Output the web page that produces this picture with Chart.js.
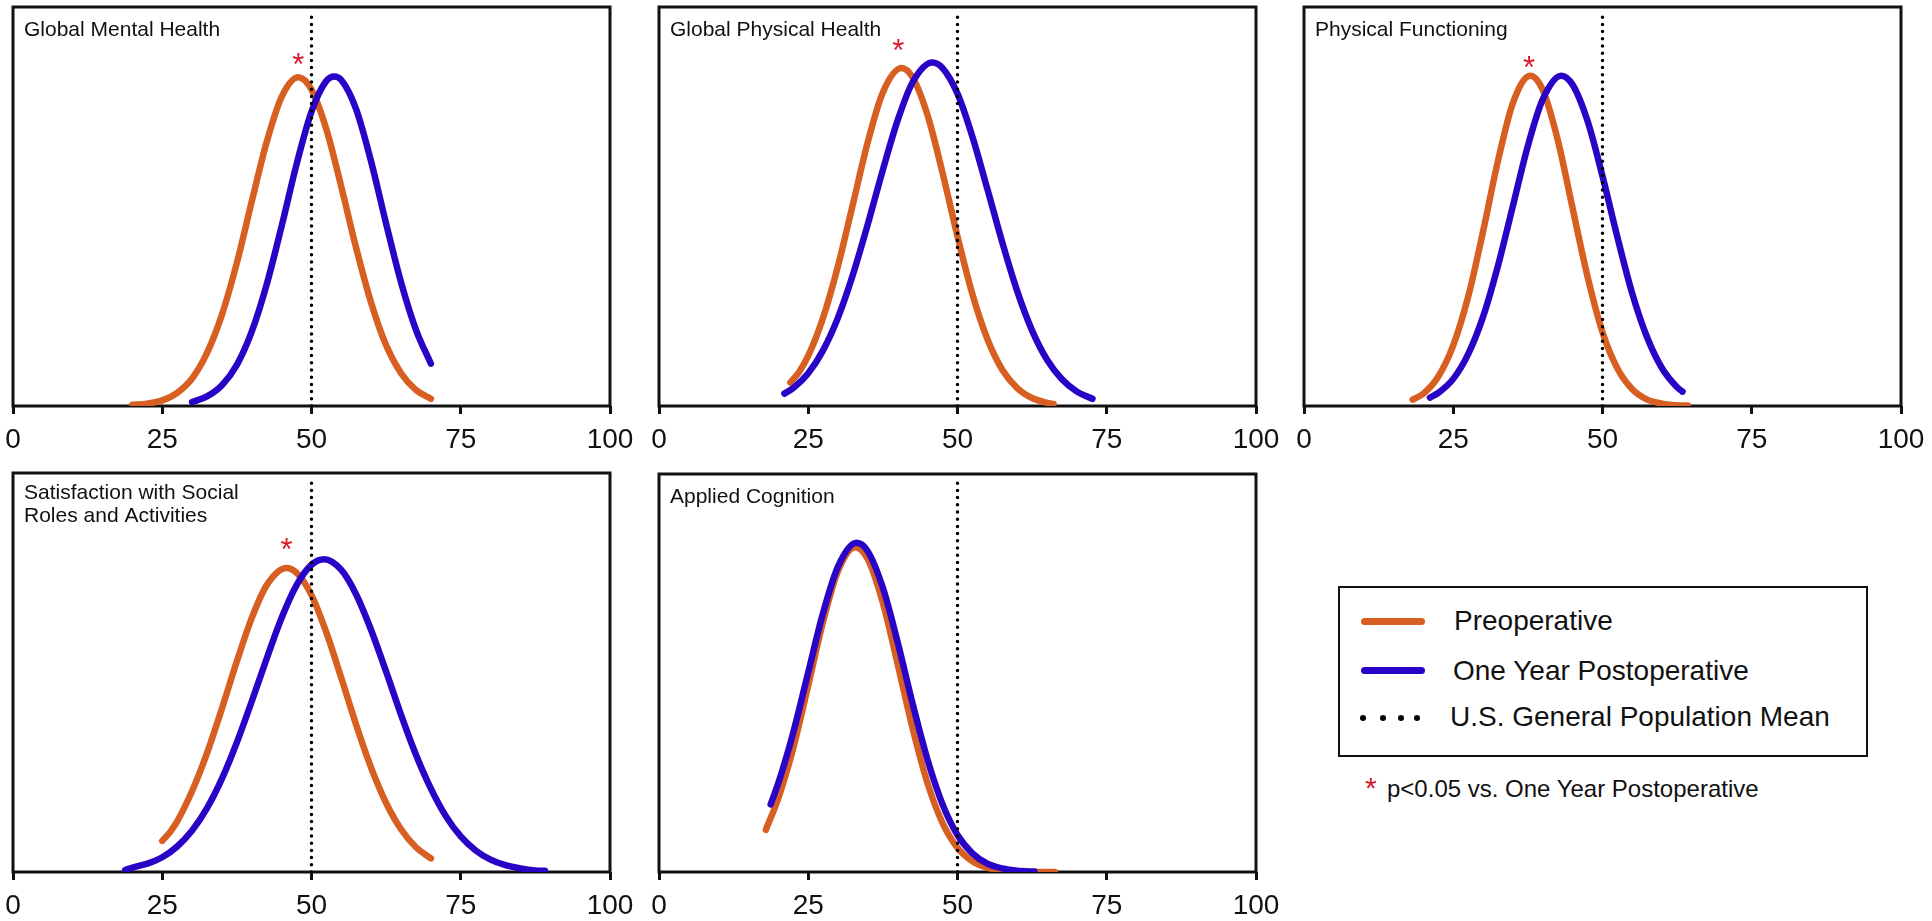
<!DOCTYPE html>
<html>
<head>
<meta charset="utf-8">
<script src="https://cdn.jsdelivr.net/npm/chart.js@4.4.0/dist/chart.umd.min.js"></script>
<style>
body{margin:0;background:#fff;width:1932px;height:921px;overflow:hidden;position:relative;font-family:"Liberation Sans",Arial,sans-serif;color:#111;}
canvas{position:absolute;}
#legendBox{position:absolute;left:1338px;top:586px;width:530px;height:171px;border:2px solid #111;box-sizing:border-box;}
.lgLine{position:absolute;left:1361px;width:64px;height:7px;border-radius:4px;}
.lgDot{position:absolute;width:6px;height:6px;border-radius:50%;background:#000;}
.lgText{position:absolute;font-size:28px;line-height:32px;white-space:nowrap;}
#note{position:absolute;left:1387px;top:775px;font-size:24px;line-height:28px;white-space:nowrap;}
#noteStar{position:absolute;left:1365px;top:771px;font-size:30px;line-height:34px;color:#D9192B;}
</style>
</head>
<body>
<div id="legendBox"></div>
<div class="lgLine" style="top:618px;background:#D75F21"></div>
<div class="lgLine" style="top:667px;background:#2A04C6"></div>
<div class="lgDot" style="left:1360px;top:715px"></div>
<div class="lgDot" style="left:1380px;top:715px"></div>
<div class="lgDot" style="left:1398px;top:715px"></div>
<div class="lgDot" style="left:1414px;top:715px"></div>
<div class="lgText" id="lgPre" style="left:1454px;top:605px"></div>
<div class="lgText" id="lgPost" style="left:1453px;top:655px"></div>
<div class="lgText" id="lgMean" style="left:1450px;top:701px"></div>
<div id="noteStar">*</div>
<div id="note">p&lt;0.05 vs. One Year Postoperative</div>
<script>
const seriesNames=['Preoperative','One Year Postoperative','U.S. General Population Mean'];
const xTicks=[0,25,50,75,100];
const popMean=50;
const meanLineTop=98;
const panelTitles=[['Global Mental Health'],['Global Physical Health'],['Physical Functioning'],['Satisfaction with Social','Roles and Activities'],['Applied Cognition']];

// [score, relative density]
const mentalPre=[[20,0.3],[22.5,0.6],[25,1.4],[27.5,3.3],[30,6.9],[32.5,13.3],[35,22.9],[37.5,35.9],[40,51.3],[42.5,66.2],[45,77.5],[47.8,82.4],[50,79.3],[52.5,69.3],[55,54.9],[57.5,39.5],[60,25.8],[62.5,15.2],[65,8.2],[67.5,4.0],[70,1.8]];
const mentalPost=[[30,1.0],[32.5,2.4],[35,5.2],[37.5,10.3],[40,18.7],[42.5,30.5],[45,45.1],[47.5,60.6],[50,73.8],[52.5,81.5],[53.8,82.6],[55,81.7],[57.5,74.3],[60,61.2],[62.5,45.7],[65,31.0],[67.5,19.1],[70,10.6]];
const physPre=[[22,5.9],[23.5,8.6],[25,12.6],[27.5,22.2],[30,35.2],[32.5,50.7],[35,66.3],[37.5,78.6],[40.6,84.7],[42.5,82.3],[45,72.8],[47.5,58.4],[50,42.5],[52.5,28.0],[55,16.8],[57.5,9.1],[60,4.5],[62.5,2.0],[65,0.8],[66.1,0.5]];
const physPost=[[21,3.1],[22.5,4.5],[25,8.2],[27.5,14.0],[30,22.2],[32.5,33.0],[35,45.7],[37.5,59.2],[40,71.7],[42.5,81.2],[45.8,86.1],[47.5,84.7],[50,78.3],[52.5,67.5],[55,54.4],[57.5,41.0],[60,28.8],[62.5,18.9],[65,11.6],[67.5,6.7],[70,3.6],[72.6,1.8]];
const funcPre=[[18.2,1.6],[20,3.1],[22.5,7.4],[25,15.2],[27.5,27.4],[30,43.8],[32.5,61.5],[35,76.0],[37.9,82.8],[40,79.2],[42.5,66.7],[45,49.5],[47.5,32.4],[50,18.5],[52.5,9.4],[55,4.2],[57.5,1.6],[60,0.6],[62.5,0.2],[64.3,0.1]];
const funcPost=[[21.1,2.1],[22.5,3.3],[25,6.8],[27.5,13.0],[30,22.4],[32.5,35.2],[35,50.2],[37.5,65.2],[40,76.9],[43.1,82.8],[45,80.5],[47.5,71.4],[50,57.6],[52.5,42.3],[55,28.1],[57.5,17.1],[60,9.4],[62.5,4.7],[63.4,3.6]];
const socialPre=[[25,7.8],[26.3,10.0],[27.5,12.7],[30,20.3],[32.5,29.8],[35,41.0],[37.5,52.8],[40,63.7],[42.5,71.9],[45.8,76.2],[47.5,75.0],[50,69.4],[52.5,60.0],[55,48.6],[57.5,36.8],[60,26.1],[62.5,17.3],[65,10.7],[67.5,6.2],[70,3.4]];
const socialPost=[[18.8,0.5],[20,1.1],[22.5,2.1],[25,3.7],[27.5,6.4],[30,10.4],[32.5,16.0],[35,23.4],[37.5,32.5],[40,42.8],[42.5,53.5],[45,63.7],[47.5,71.9],[50,77.0],[52.1,78.4],[55,75.7],[57.5,69.5],[60,60.6],[62.5,50.2],[65,39.4],[67.5,29.4],[70,20.9],[72.5,14.0],[75,8.9],[77.5,5.4],[80,3.1],[82.5,1.7],[85,0.9],[87.5,0.4],[89.1,0.3]];
const cogPre=[[17.9,10.6],[20,18.6],[22.5,31.2],[25,46.9],[27.5,63.0],[30,75.7],[32.9,81.6],[35,78.5],[37.5,67.6],[40,52.1],[42.5,36.0],[45,22.2],[47.5,12.3],[50,6.1],[52.5,2.7],[55,1.1],[57.5,0.4],[60,0.1],[62.5,0],[66.3,0]];
const cogPost=[[18.7,17.0],[20,22.4],[22.5,35.1],[25,50.2],[27.5,65.2],[30,76.8],[33.1,82.7],[35,80.5],[37.5,71.4],[40,57.6],[42.5,42.2],[45,28.1],[47.5,17.0],[50,9.3],[52.5,4.7],[55,2.1],[57.5,0.9],[60,0.3],[62.9,0.1]];
// significance marks (null = none)
const starX=[47.8,40.1,37.7,45.8,null];
const starY=[87.5,91.1,86.8,82.6,null];

const preSets=[mentalPre,physPre,funcPre,socialPre,cogPre];
const postSets=[mentalPost,physPost,funcPost,socialPost,cogPost];

const FONT='"Liberation Sans",Arial,sans-serif';
const ORANGE='#D75F21',BLUE='#2A04C6',RED='#D9192B';
const boxes=[{l:13,t:7,r:610,b:406},{l:659,t:7,r:1256,b:406},{l:1304,t:7,r:1901,b:406},{l:13,t:473,r:610,b:872},{l:659,t:474,r:1256,b:872}];
const padL=22,padR=30,padT=4,axisH=48;

document.getElementById('lgPre').textContent=seriesNames[0];
document.getElementById('lgPost').textContent=seriesNames[1];
document.getElementById('lgMean').textContent=seriesNames[2];

const pts=arr=>arr.map(p=>({x:p[0],y:p[1]}));

const frame={
    id:'frame',
    beforeDatasetsDraw(chart){
        const {ctx,chartArea:a}=chart;
        ctx.save();
        ctx.strokeStyle='#111';ctx.lineWidth=3;
        ctx.strokeRect(a.left,a.top,a.right-a.left,a.bottom-a.top);
        ctx.restore();
    },
    afterDatasetsDraw(chart,args,opts){
        const {ctx,chartArea:a,scales:{x,y}}=chart;
        ctx.save();
        ctx.fillStyle='#111';ctx.textBaseline='alphabetic';ctx.textAlign='left';
        ctx.font='21px '+FONT;
        const base=opts.title.length>1?26:29;
        opts.title.forEach((t,i)=>ctx.fillText(t,a.left+11,a.top+base+i*23));
        ctx.font='28px '+FONT;ctx.textAlign='center';
        x.ticks.forEach(t=>ctx.fillText(String(t.value),x.getPixelForValue(t.value),a.bottom+42));
        if(opts.sx!=null){
            ctx.fillStyle=RED;ctx.font='31px '+FONT;
            ctx.fillText('*',x.getPixelForValue(opts.sx),y.getPixelForValue(opts.sy)+18);
        }
        ctx.restore();
    }
};

boxes.forEach((b,i)=>{
    const c=document.createElement('canvas');
    const w=(b.r-b.l)+padL+padR,h=(b.b-b.t)+padT+axisH;
    c.width=w;c.height=h;
    c.style.left=(b.l-padL)+'px';c.style.top=(b.t-padT)+'px';
    document.body.appendChild(c);
    new Chart(c,{
        type:'line',
        data:{datasets:[
            {label:seriesNames[2],data:[{x:popMean,y:0},{x:popMean,y:meanLineTop}],borderColor:'#000',borderWidth:3.5,borderDash:[0,7.2],borderCapStyle:'round',pointRadius:0,order:0},
            {label:seriesNames[1],data:pts(postSets[i]),borderColor:BLUE,borderWidth:6.5,borderCapStyle:'round',cubicInterpolationMode:'monotone',pointRadius:0,order:1},
            {label:seriesNames[0],data:pts(preSets[i]),borderColor:ORANGE,borderWidth:6.5,borderCapStyle:'round',cubicInterpolationMode:'monotone',pointRadius:0,order:2}
        ]},
        options:{
            responsive:false,animation:false,devicePixelRatio:1,
            layout:{padding:{left:padL,right:padR,top:padT,bottom:0}},
            plugins:{legend:{display:false},tooltip:{enabled:false},frame:{title:panelTitles[i],sx:starX[i],sy:starY[i]}},
            scales:{
                x:{type:'linear',min:xTicks[0],max:xTicks[xTicks.length-1],
                    afterBuildTicks:s=>{s.ticks=xTicks.map(v=>({value:v}));},
                    afterFit:s=>{s.height=axisH;},
                    grid:{display:true,drawOnChartArea:false,drawTicks:true,tickLength:8,tickWidth:3,tickColor:'#111'},
                    border:{display:false},
                    ticks:{display:false}},
                y:{display:false,min:0,max:100}
            }
        },
        plugins:[frame]
    });
});
</script>
</body>
</html>
